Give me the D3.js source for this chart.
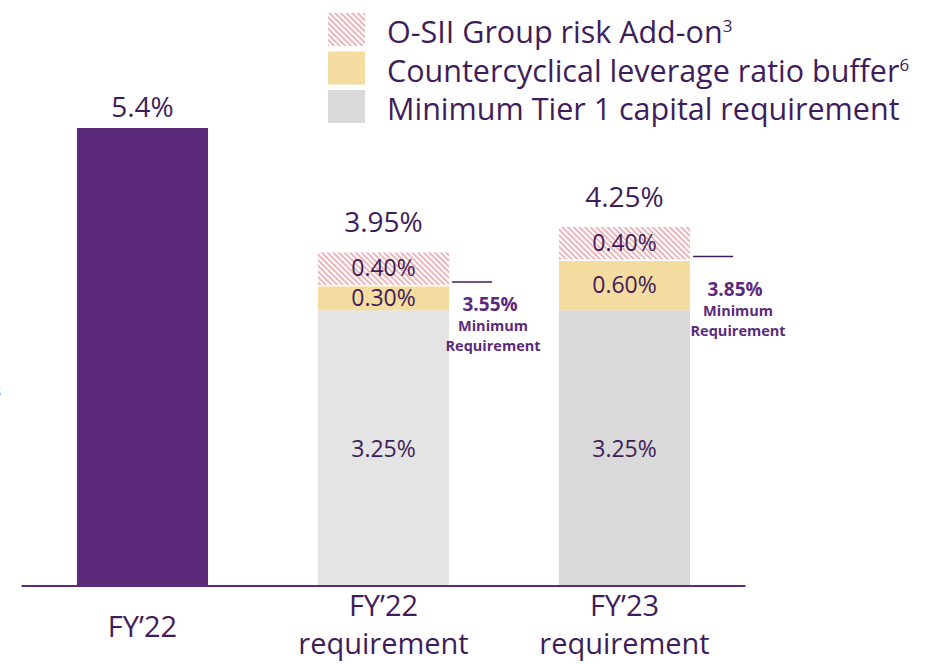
<!DOCTYPE html>
<html>
<head>
<meta charset="utf-8">
<script src="https://cdn.jsdelivr.net/npm/d3@7"></script>
<style>
  body { margin: 0; background: #fff; }
  svg { display: block; font-family: "Open Sans", "Lato", sans-serif; }
</style>
</head>
<body>
<svg id="chart" width="935" height="664"></svg>
<script>
// chart values
var categories = ["FY’22", "FY’22 requirement", "FY’23 requirement"];
var actual = [5.4, 0, 0];
var minTier1 = [0, 3.25, 3.25];
var ccyb = [0, 0.30, 0.60];
var osii = [0, 0.40, 0.40];
var totals = ["5.4%", "3.95%", "4.25%"];
var minReq = [null, 3.55, 3.85];
var legendLabels = ["O-SII Group risk Add-on", "Countercyclical leverage ratio buffer", "Minimum Tier 1 capital requirement"];
var legendSup = ["3", "6", ""];

var purple = "#5b2a7a", text = "#3f1d5a";

var svg = d3.select("#chart");
var defs = svg.append("defs");
var pat = defs.append("pattern")
    .attr("id", "hatch")
    .attr("patternUnits", "userSpaceOnUse")
    .attr("width", 4).attr("height", 4)
    .attr("patternTransform", "rotate(-45)");
pat.append("rect").attr("width", 4).attr("height", 4).attr("fill", "#fff");
pat.append("line").attr("x1", 1).attr("y1", 0).attr("x2", 1).attr("y2", 4)
    .attr("stroke", "#e9a3aa").attr("stroke-width", 1.6);

var x = d3.scaleBand().domain(categories).range([21.5, 745.5])
    .paddingInner(0.456).paddingOuter(0.23);
var y = d3.scaleLinear().domain([0, 5.4]).range([586, 128]);

// stacked segments
var segs = [];
categories.forEach(function(c, i) {
    var base = 0;
    [[actual[i], purple, "actual"], [minTier1[i], i == 1 ? "#e4e4e4" : "#d9d9d9", "min"],
     [ccyb[i], "#f5dca0", "ccyb"], [osii[i], "url(#hatch)", "osii"]].forEach(function(s) {
        if (s[0] > 0) {
            segs.push({cat: c, y0: base, y1: base + s[0], fill: s[1], key: s[2], v: s[0]});
            base += s[0];
        }
    });
});

svg.selectAll("rect.seg").data(segs).enter().append("rect")
    .attr("class", "seg")
    .attr("x", function(d) { return x(d.cat); })
    .attr("width", x.bandwidth())
    .attr("y", function(d) { return y(d.y1) + (d.y0 > 0 ? 1.5 : 0); })
    .attr("height", function(d) { return y(d.y0) - y(d.y1) - (d.y0 > 0 ? 1.5 : 0); })
    .attr("fill", function(d) { return d.fill; });

// segment labels
svg.selectAll("text.seg").data(segs.filter(function(d) { return d.key != "actual"; })).enter().append("text")
    .attr("class", "seg")
    .attr("x", function(d) { return x(d.cat) + x.bandwidth() / 2; })
    .attr("y", function(d) { return y((d.y0 + d.y1) / 2) + 8.5; })
    .attr("text-anchor", "middle")
    .attr("font-size", 23)
    .attr("fill", text)
    .text(function(d) { return d.v.toFixed(2) + "%"; });

// totals
svg.selectAll("text.total").data(categories).enter().append("text")
    .attr("x", function(c) { return x(c) + x.bandwidth() / 2; })
    .attr("y", function(c, i) { return y(actual[i] + minTier1[i] + ccyb[i] + osii[i]) - (i == 0 ? 11 : 19); })
    .attr("text-anchor", "middle")
    .attr("font-size", 28)
    .attr("fill", text)
    .text(function(c, i) { return totals[i]; });

// minimum requirement markers
categories.forEach(function(c, i) {
    if (minReq[i] == null) return;
    var x0 = x(c) + x.bandwidth() + 3, ly = y(minReq[i]) - 3;
    svg.append("line").attr("x1", x0).attr("x2", x0 + 40).attr("y1", ly).attr("y2", ly)
        .attr("stroke", text).attr("stroke-width", 1.5);
    var g = svg.append("g").attr("fill", purple).attr("font-weight", "bold")
        .attr("text-anchor", "middle");
    var cx = x0 + (i == 1 ? 41 : 45);
    var ty = i == 1 ? 311 : 296;
    g.append("text").attr("x", cx - 3).attr("y", ty).attr("font-size", 19).text(minReq[i].toFixed(2) + "%");
    g.append("text").attr("x", cx).attr("y", ty + 20).attr("font-size", 14.5).text("Minimum");
    g.append("text").attr("x", cx).attr("y", ty + 40).attr("font-size", 14.5).text("Requirement");
});

// axis
var axis = svg.append("g").attr("transform", "translate(0,586)")
    .call(d3.axisBottom(x).tickSize(0).tickFormat(""));
axis.select(".domain").attr("stroke", purple).attr("stroke-width", 2).attr("d", "M21.5,0H745.5");

svg.selectAll("text.cat").data(categories).enter().append("text")
    .attr("text-anchor", "middle")
    .attr("font-size", 29)
    .attr("fill", text)
    .attr("transform", function(c) { return "translate(" + (x(c) + x.bandwidth() / 2) + ",0)"; })
    .each(function(c, i) {
        var t = d3.select(this);
        if (i == 0) {
            t.append("tspan").attr("x", 0).attr("y", 637).text(c);
        } else {
            var p = c.split(" ");
            t.append("tspan").attr("x", 0).attr("y", 616).text(p[0]);
            t.append("tspan").attr("x", 0).attr("y", 654).text(p[1]);
        }
    });

// legend
var fills = ["url(#hatch)", "#f5dca0", "#dadada"];
var lg = svg.selectAll("g.leg").data(legendLabels).enter().append("g")
    .attr("transform", function(d, i) { return "translate(328," + (13 + i * 38.5) + ")"; });
lg.append("rect").attr("width", 37).attr("height", 33).attr("fill", function(d, i) { return fills[i]; });
var lt = lg.append("text").attr("x", 59).attr("y", 30).attr("font-size", 30.5).attr("fill", text);
lt.append("tspan").text(function(d) { return d; });
lt.append("tspan").attr("font-size", 17).attr("dy", -11).text(function(d, i) { return legendSup[i]; });

// clipped edge fragment on the left
svg.append("text").attr("x", -8).attr("y", 397).attr("font-size", 18).attr("font-weight", "bold")
    .attr("fill", purple).text("s");
</script>
</body>
</html>
